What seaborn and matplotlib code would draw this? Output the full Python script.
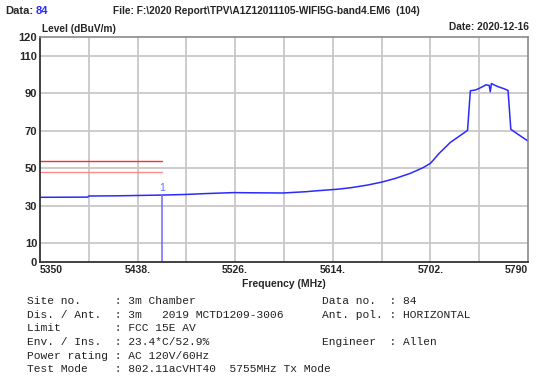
import matplotlib
matplotlib.use("Agg")
import matplotlib.pyplot as plt
import matplotlib.transforms as mtransforms
import seaborn as sns
import pandas as pd

# Measured spectrum (average detector)
freq_mhz = [5350, 5393, 5394, 5420, 5440, 5460, 5480, 5500, 5524, 5545, 5569,
            5590, 5600, 5618, 5630, 5645, 5658, 5670, 5684, 5695, 5702, 5710,
            5720, 5729, 5735.5, 5738, 5743, 5746, 5750, 5752, 5755, 5756, 5757,
            5760, 5763, 5768, 5772, 5774.5, 5780, 5790]
level_dbuv = [34.5, 34.6, 35.2, 35.3, 35.5, 35.7, 36.0, 36.5, 37.0, 36.9, 36.8,
              37.5, 38.0, 38.8, 39.6, 41.0, 42.6, 44.5, 47.3, 50.2, 52.6, 58.0,
              63.8, 67.5, 70.2, 91.3, 91.8, 92.6, 93.8, 94.5, 94.2, 90.8, 95.2,
              94.3, 93.5, 92.5, 91.5, 70.8, 68.5, 64.5]

# Limit lines over the restricted band
limit_start, limit_end = 5350, 5460
limit_av = 54
limit_margin = 48

# Marker 1
marker_freq = 5460
marker_level = 35.7

x_ticks = [5350, 5438, 5526, 5614, 5702, 5790]
x_tick_labels = ["5350", "5438.", "5526.", "5614.", "5702.", "5790"]
x_grid = [5350 + 44 * i for i in range(11)]
y_ticks = [0, 10, 30, 50, 70, 90, 110, 120]
y_grid = [10, 30, 50, 70, 90, 110]

info_left = [
    "Site no.     : 3m Chamber",
    "Dis. / Ant.  : 3m   2019 MCTD1209-3006",
    "Limit        : FCC 15E AV",
    "Env. / Ins.  : 23.4*C/52.9%",
    "Power rating : AC 120V/60Hz",
    "Test Mode    : 802.11acVHT40  5755MHz Tx Mode",
]
info_right = [
    "Data no.  : 84",
    "Ant. pol. : HORIZONTAL",
    "",
    "Engineer  : Allen",
    "",
    "",
]

sns.set_style("white")
plt.rcParams["font.family"] = ["Liberation Sans", "DejaVu Sans"]

W, H = 537, 378
fig = plt.figure(figsize=(W / 100, H / 100), dpi=100)
ax = fig.add_axes([40 / W, (H - 262) / H, (528 - 40) / W, (262 - 37) / H])

ax.set_xlim(5350, 5790)
ax.set_ylim(0, 120)

# grid
for gx in x_grid[1:-1]:
    ax.axvline(gx, color="#c8c8c8", lw=1.3, zorder=0)
for gy in y_grid:
    ax.axhline(gy, color="#c8c8c8", lw=1.3, zorder=0)

# limit lines
ax.plot([limit_start, limit_end], [limit_av, limit_av], color="#ff2a2a", lw=1.0)
ax.plot([limit_start, limit_end], [limit_margin, limit_margin], color="#ff8a8a", lw=1.0)

df = pd.DataFrame({"freq": freq_mhz, "level": level_dbuv})
sns.lineplot(data=df, x="freq", y="level", ax=ax, color="#2a2aff", lw=1.1,
             estimator=None, sort=False)

# marker
ax.plot([marker_freq, marker_freq], [0, marker_level], color="#6a6aff", lw=1.1)
ax.text(marker_freq, marker_level + 1.2, "1", color="#6a6aff", fontsize=7.5,
        ha="center", va="bottom")

ax.set_xticks(x_ticks)
ax.set_xticklabels(x_tick_labels, fontsize=7.5, fontweight="bold")
labs = ax.get_xticklabels()
labs[0].set_ha("left")
labs[-1].set_ha("right")
labs[-1].set_transform(labs[-1].get_transform() +
                       mtransforms.ScaledTranslation(7 / 100, 0, fig.dpi_scale_trans))
ax.set_yticks(y_ticks)
ax.set_yticklabels([str(v) for v in y_ticks], fontsize=8, fontweight="bold")
ax.tick_params(length=0, pad=2)
ax.set_xlabel("Frequency (MHz)", fontsize=7.5, fontweight="bold", labelpad=3)
ax.set_ylabel("")

for side in ("left", "bottom"):
    ax.spines[side].set_color("#333333")
    ax.spines[side].set_linewidth(1.3)
for side in ("top", "right"):
    ax.spines[side].set_color("#8a8a8a")
    ax.spines[side].set_linewidth(1.2)

# header
fig.text(5 / W, 1 - 11 / H, "Data:", fontsize=8, fontweight="bold", va="center")
fig.text(36 / W, 1 - 11 / H, "84", fontsize=8, fontweight="bold", va="center",
         color="#2a2aff")
fig.text(113 / W, 1 - 11 / H,
         "File: F:\\2020 Report\\TPV\\A1Z12011105-WIFI5G-band4.EM6  (104)",
         fontsize=7.3, fontweight="bold", va="center")
fig.text(42 / W, 1 - 29 / H, "Level (dBuV/m)", fontsize=7.3, fontweight="bold",
         va="center")
fig.text(529 / W, 1 - 27 / H, "Date: 2020-12-16", fontsize=7.3, fontweight="bold",
         va="center", ha="right")

# info block
for i, (left, right) in enumerate(zip(info_left, info_right)):
    y = 1 - (301 + i * 13.7) / H
    fig.text(27 / W, y, left, fontsize=8.1, family="Liberation Mono",
             color="#222222", va="center")
    if right:
        fig.text(322 / W, y, right, fontsize=8.1, family="Liberation Mono",
                 color="#222222", va="center")

fig.savefig("out.png", dpi=100, facecolor="white")
